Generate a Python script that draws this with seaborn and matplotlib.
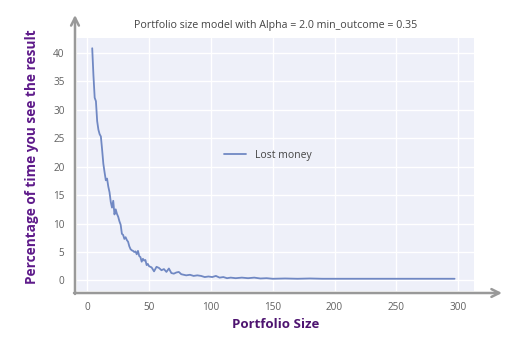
import matplotlib
matplotlib.use("Agg")
import matplotlib.pyplot as plt
import seaborn as sns
import pandas as pd

portfolio_size = [4, 5, 6, 7, 8, 9, 10, 11, 12, 13, 14, 15, 16, 17, 18, 19, 20, 21, 22, 23,
                  24, 25, 26, 27, 28, 29, 30, 31, 32, 33, 34, 35, 36, 37, 38, 39, 40, 41, 42,
                  43, 44, 45, 46, 47, 48, 49, 50, 52, 54, 56, 58, 60, 62, 64, 66, 68, 70, 72,
                  74, 76, 78, 80, 83, 86, 89, 92, 95, 98, 101, 104, 107, 110, 113, 116, 120,
                  125, 130, 135, 140, 145, 150, 160, 170, 180, 190, 200, 220, 240, 260, 280, 297]
lost_money = [40.8, 36.0, 32.1, 31.5, 28.0, 26.5, 25.7, 25.3, 23.0, 20.5, 19.0, 17.6, 17.9,
              16.5, 15.5, 13.8, 12.8, 14.0, 11.6, 12.5, 11.7, 11.2, 10.4, 9.8, 8.2, 8.0, 7.3,
              7.6, 7.1, 6.8, 6.0, 5.5, 5.3, 5.2, 5.0, 5.1, 4.6, 5.2, 4.3, 4.1, 3.3, 3.8, 3.5,
              3.6, 2.7, 2.9, 2.5, 2.3, 1.6, 2.4, 2.2, 1.8, 2.0, 1.5, 2.1, 1.3, 1.2, 1.4, 1.5,
              1.1, 1.0, 0.9, 1.0, 0.8, 0.9, 0.8, 0.6, 0.7, 0.6, 0.8, 0.5, 0.6, 0.4, 0.5, 0.4,
              0.5, 0.4, 0.5, 0.35, 0.4, 0.3, 0.35, 0.3, 0.35, 0.3, 0.3, 0.3, 0.3, 0.3, 0.3, 0.3]
series_name = "Lost money"
title = "Portfolio size model with Alpha = 2.0 min_outcome = 0.35"
x_label = "Portfolio Size"
y_label = "Percentage of time you see the result"
x_ticks = [0, 50, 100, 150, 200, 250, 300]
y_ticks = [0, 5, 10, 15, 20, 25, 30, 35, 40]

df = pd.DataFrame({"size": portfolio_size, "value": lost_money, "series": series_name})

sns.set_theme(style="white")
plt.rcParams["font.family"] = ["Open Sans", "DejaVu Sans"]

fig = plt.figure(figsize=(5.13, 3.49), dpi=100)
ax = fig.add_axes([77 / 513, 1 - 291 / 349, 397 / 513, 253 / 349])
ax.set_facecolor("#eef0f9")

sns.lineplot(data=df, x="size", y="value", hue="series", palette=["#7088c3"],
             linewidth=1.3, ax=ax)

ax.set_xlim(-8.3, 312.7)
ax.set_ylim(-1.85, 42.6)
ax.set_xticks(x_ticks)
ax.set_yticks(y_ticks)
ax.grid(True, color="white", linewidth=1.0)
ax.set_axisbelow(True)
for s in ax.spines.values():
    s.set_visible(False)
ax.tick_params(axis="both", length=0, labelsize=7.2, labelcolor="#606060")
ax.tick_params(axis="x", pad=8)
ax.tick_params(axis="y", pad=9)

ax.set_xlabel("")
ax.set_ylabel("")
fig.text(275.5 / 513, 1 - 325 / 349, x_label, ha="center", va="center",
         fontsize=9.5, fontweight="bold", color="#4e1470")
fig.text(32 / 513, 1 - 157 / 349, y_label, ha="center", va="center", rotation=90,
         fontsize=9.8, fontweight="bold", color="#5e1a8a")
ax.set_title(title, fontsize=7.7, color="#444444", pad=7)

leg = ax.legend(loc="center", bbox_to_anchor=(0.48, 0.537), frameon=False,
                fontsize=7.5, handlelength=2.2)
for t in leg.get_texts():
    t.set_color("#444444")

# arrow axes
ax.annotate("", xy=(75 / 513, 1 - 15 / 349), xytext=(75 / 513, 1 - 294 / 349),
            xycoords="figure fraction", textcoords="figure fraction",
            arrowprops=dict(arrowstyle="->", color="#999999", lw=1.8,
                            mutation_scale=14, shrinkA=0, shrinkB=0))
ax.annotate("", xy=(502 / 513, 1 - 293 / 349), xytext=(74 / 513, 1 - 293 / 349),
            xycoords="figure fraction", textcoords="figure fraction",
            arrowprops=dict(arrowstyle="->", color="#999999", lw=1.8,
                            mutation_scale=14, shrinkA=0, shrinkB=0))

fig.savefig("out.png", dpi=100)
